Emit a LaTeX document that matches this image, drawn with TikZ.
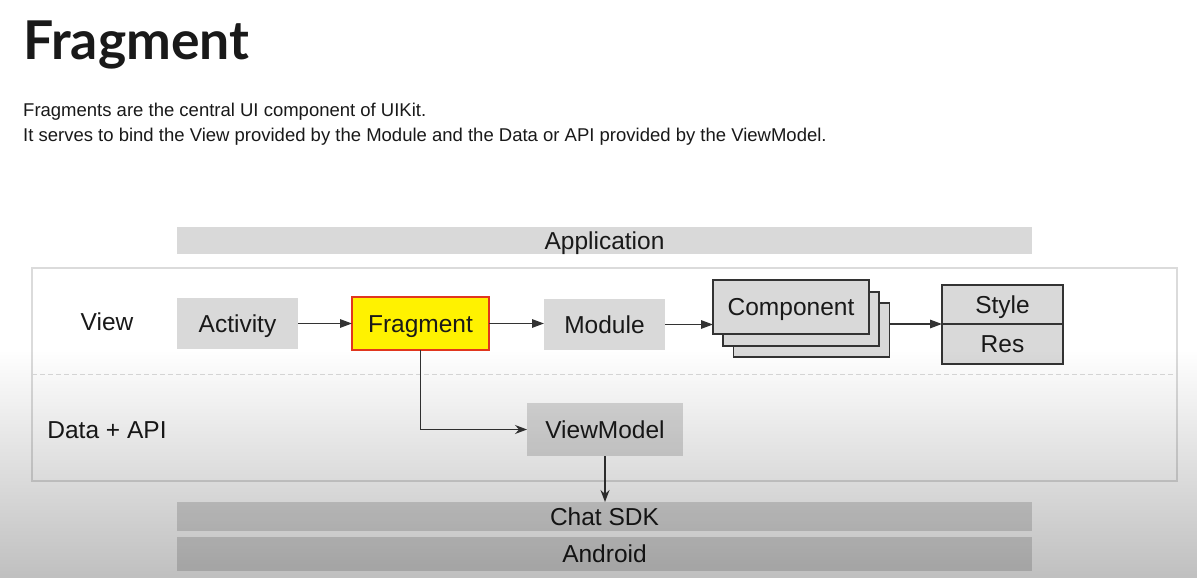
\documentclass[tikz,border=0pt]{standalone}
\usepackage{fontspec}
\setmainfont{Liberation Sans}
\newfontfamily\titlefont{Lato}
\usetikzlibrary{arrows.meta,fadings}
\definecolor{boxgray}{gray}{0.85}
\definecolor{ink}{gray}{0.1}
\definecolor{edge}{gray}{0.2}
\definecolor{framegray}{gray}{0.86}
\definecolor{fragred}{RGB}{225,55,30}
\tikzfading[name=dimfade,top color=transparent!100,middle color=transparent!91,bottom color=transparent!75]
\newcommand\layerbar[4]{\node(#1)[bar,minimum height=#3] at (604.5,#2) {#4};}

\begin{document}
\begin{tikzpicture}[x=1pt,y=-1pt,
    box/.style={fill=boxgray,inner sep=0pt,outer sep=0pt,text=ink,text height=17.5pt,text depth=0pt,font=\fontsize{24.5}{29}\selectfont},
    bar/.style={box,minimum width=855pt},
    stack/.style={box,draw=edge,line width=1.2pt,minimum width=156pt,minimum height=54pt},
    link/.style={draw=edge,line width=1.4pt,-{Triangle[length=12pt,width=8.5pt]}},
    open link/.style={draw=edge,line width=1.3pt,-{Stealth[length=12pt,width=9pt,inset=4pt]}}]
    \useasboundingbox[fill=white] (0,0) rectangle (1200,578);
    % heading
    \node(title)[anchor=base west,inner sep=0pt,text=ink,font=\titlefont\bfseries\fontsize{53.5}{60}\selectfont] at (23,59.3) {Fragment};
    \node(intro)[anchor=base west,inner sep=0pt,text=ink,font=\fontsize{18.5}{24}\selectfont] at (23,116) {Fragments are the central UI component of UIKit.};
    \node(intro2)[anchor=base west,inner sep=0pt,text=ink,font=\fontsize{18.5}{24}\selectfont] at (23,141) {It serves to bind the View provided by the Module and the Data or API provided by the ViewModel.};
    % layers
    \layerbar{app}{240.5}{27pt}{Application}
    \draw[framegray,line width=1.2pt] (32,268) rectangle (1177,481);
    \draw[framegray,line width=0.9pt,dash pattern=on 5pt off 3pt] (32,374) -- (1177,374);
    \node(view)[text=ink,text height=17.5pt,text depth=0pt,font=\fontsize{24.5}{29}\selectfont] at (107,322) {View};
    \node(data)[text=ink,text height=17.5pt,text depth=0pt,font=\fontsize{24.5}{29}\selectfont] at (107,430) {Data + API};
    % view row
    \node(act)[box,minimum width=121pt,minimum height=51pt] at (237.5,323.5) {Activity};
    \node(frag)[box,fill=yellow,draw=fragred,line width=1.2pt,minimum width=137pt,minimum height=53pt] at (420.5,323.5) {Fragment};
    \node(mod)[box,minimum width=121pt,minimum height=51pt] at (604.5,324.5) {Module};
    \node(cmpc)[stack] at (811.5,330) {};
    \node(cmpb)[stack] at (801,319) {};
    \node(cmpa)[stack] at (791,307) {Component};
    \node(sty)[box,draw=edge,line width=1.2pt,minimum width=121pt,minimum height=39pt] at (1002.5,304.5) {Style};
    \node(res)[box,draw=edge,line width=1.2pt,minimum width=121pt,minimum height=40pt] at (1002.5,344) {Res};
    % data row
    \node(vm)[box,minimum width=156pt,minimum height=53pt] at (605,429.5) {ViewModel};
    \layerbar{sdk}{516.5}{29pt}{Chat SDK}
    \layerbar{andr}{554}{34pt}{Android}
    % connectors
    \draw[link] (act.east) -- (frag.west);
    \draw[link] (frag.east) -- (frag.east -| mod.west);
    \draw[link] (mod.east) -- (mod.east -| cmpa.west);
    \draw[link] (cmpc.east |- res.north west) -- (res.north west);
    \draw[open link] (frag.south) |- (vm.west);
    \draw[open link] (vm.south) -- (vm.south |- sdk.north);
    % dimmed bottom
    \fill[black,path fading=dimfade] (0,350) rectangle (1200,578);
\end{tikzpicture}
\end{document}
